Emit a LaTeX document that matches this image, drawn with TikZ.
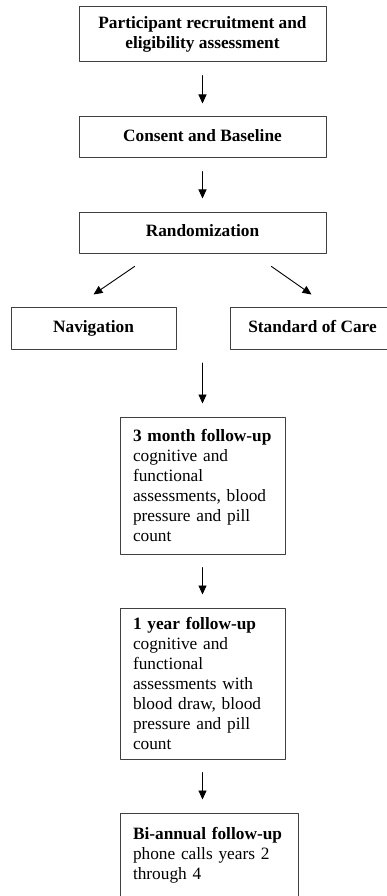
\documentclass[tikz,border=0pt]{standalone}
\usepackage{fontspec}
\setmainfont{Liberation Serif}
\usetikzlibrary{arrows.meta}

\begin{document}
\begin{tikzpicture}[line cap=round,line join=round,>={Triangle[length=9pt,width=8pt]},x=1pt,y=-1pt,
  box/.style={draw=black!75,line width=1pt,rectangle,inner sep=0pt,font=\fontsize{17.3}{20}\selectfont},
  headbox/.style={box,font=\fontsize{17.3}{20}\selectfont\bfseries,align=center},
  stepbox/.style={box,align=left,text width=#1,inner xsep=13pt},
  flow/.style={->,line width=0.9pt,shorten <=13pt,shorten >=13pt}]
\useasboundingbox (0,0) rectangle (386,896);
\node[headbox,minimum width=247pt,minimum height=55pt] (recruit) at (202.5,34.5) {Participant recruitment and\\eligibility assessment};
\node[headbox,minimum width=247pt,minimum height=41pt] (consent) at (202.5,137.5) {\strut Consent and Baseline};
\node[headbox,minimum width=247pt,minimum height=41pt] (rand) at (202.5,232.5) {\strut Randomization};
\node[headbox,minimum width=165pt,minimum height=42pt] (nav) at (93.5,328) {\strut Navigation};
\node[headbox,minimum width=165pt,minimum height=42pt] (soc) at (312.5,328) {\strut Standard of Care};
\node[stepbox=139pt,minimum height=137pt] (fu3) at (202.5,485.5) {{\bfseries 3 month follow-up}\\cognitive and\\functional\\assessments, blood\\pressure and pill\\count};
\node[stepbox=139pt,minimum height=151pt] (fu12) at (202.5,683.5) {{\bfseries 1 year follow-up}\\cognitive and\\functional\\assessments with\\blood draw, blood\\pressure and pill\\count};
\node[stepbox=152pt,minimum height=84pt] (biannual) at (209,855) {{\bfseries Bi-annual follow-up}\\phone calls years 2\\through 4};
\coordinate (split) at (202.5,363);
\draw[flow] (recruit) -- (consent);
\draw[flow] (consent) -- (rand);
\draw[->,line width=0.9pt] ([xshift=56pt,yshift=-13pt]rand.south west) -- ([xshift=83pt,yshift=12pt]nav.north west);
\draw[->,line width=0.9pt] ([xshift=-55pt,yshift=-13pt]rand.south east) -- ([xshift=82pt,yshift=12pt]soc.north west);
\draw[flow,shorten <=0pt] (split) -- (fu3);
\draw[flow] (fu3) -- (fu12);
\draw[flow] (fu12.south) -- (fu12.south |- biannual.north);
\end{tikzpicture}
\end{document}
